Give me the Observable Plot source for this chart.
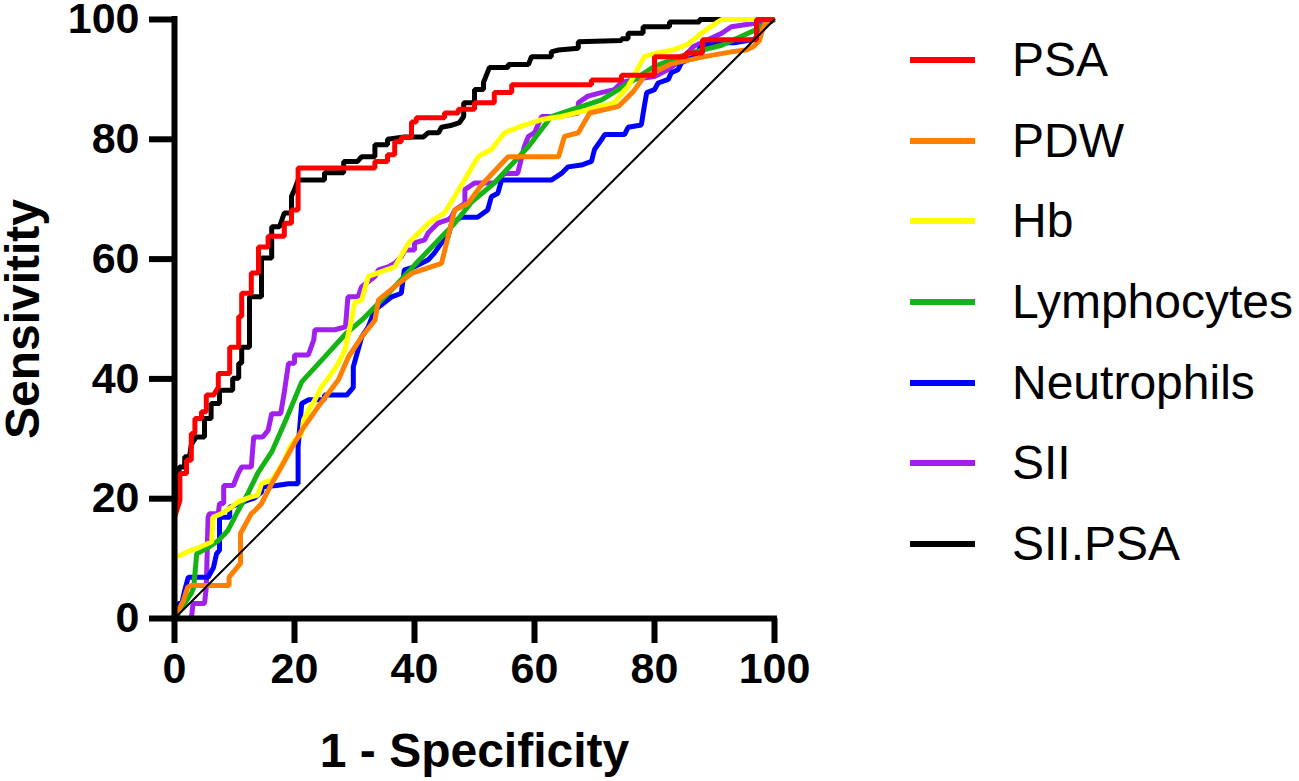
<!DOCTYPE html>
<html>
<head>
<meta charset="utf-8">
<script src="https://cdn.jsdelivr.net/npm/d3@7"></script>
<script src="https://cdn.jsdelivr.net/npm/@observablehq/plot@0.6"></script>
<style>
  html, body { margin: 0; padding: 0; background: #fff; }
  body { font-family: "Liberation Sans", Arial, sans-serif; }
  #wrap { position: relative; width: 1299px; height: 781px; overflow: hidden; background: #fff; }
  #chart { position: absolute; left: 0; top: 0; }
  #legend { position: absolute; left: 910px; top: 19.7px; }
  .row { height: 80.7px; display: flex; align-items: center; }
  .sw { width: 65px; height: 6px; margin-right: 37px; flex: none; }
  .lab { font-size: 48px; line-height: 1; color: #000; white-space: nowrap; }
</style>
</head>
<body>
<div id="wrap"><div id="chart"></div><div id="legend"></div></div>
<script>
// ---- Data (x = 1 - Specificity %, y = Sensitivity %) ----
const seriesNames = ["PSA", "PDW", "Hb", "Lymphocytes", "Neutrophils", "SII", "SII.PSA"];
const seriesColors = ["#ff0000", "#ff8000", "#ffff00", "#14b414", "#0000ff", "#a020f0", "#000000"];
const xTicks = [0, 20, 40, 60, 80, 100];
const yTicks = [0, 20, 40, 60, 80, 100];
const xLabel = "1 - Specificity";
const yLabel = "Sensivitity";
const chanceLine = [[0, 0], [100, 100]];

const psa = [[0,0],[0,16.9],[0.9,19.7],[0.9,24.2],[2,24.2],[2,26.4],[2.8,26.4],[2.8,30.9],[3.4,30.9],[3.4,33.4],[4.5,33.4],[4.5,34.5],[5.3,34.5],[5.3,37.3],[6.5,37.3],[7.3,38.6],[7.3,40.9],[9.2,40.9],[9.2,45.3],[10.7,45.3],[10.7,50.4],[11.2,50.4],[11.2,54.3],[12.8,54.3],[12.8,57.7],[14,57.7],[14,62],[15.6,62],[15.6,63.8],[18.3,63.8],[18.3,66],[19.5,66],[19.5,68.2],[20.6,68.2],[20.6,75.2],[33.4,75.2],[33.4,76.3],[35.5,76.3],[35.5,77.4],[36.7,77.4],[36.7,79.6],[37.8,79.6],[37.8,80.3],[39.5,80.3],[39.5,82.9],[40.3,82.9],[40.3,83.6],[45,83.6],[45,84.4],[47.3,84.4],[47.3,85],[50,85],[50,86.1],[53.3,86.1],[53.3,87.8],[56.2,87.8],[56.2,89.1],[69.5,89.1],[69.5,89.9],[74.5,89.9],[74.5,90.7],[80,90.7],[80,93.8],[85.3,93.8],[85.3,94.4],[88,94.4],[88,96.6],[97,96.6],[97,100],[100,100]];

const pdw = [[0,0],[1.5,3],[2.2,5.2],[2.8,5.5],[9.1,5.5],[9.1,6.9],[11,9.2],[11,14.2],[12.8,17.5],[13.4,18],[14.5,19.2],[16.2,22.5],[17.8,25.3],[19.5,28.4],[21.2,31.4],[23.9,35.3],[27.3,39.8],[29,43.7],[31.2,47],[33.4,49.8],[34,53.2],[36.7,55.4],[39.5,57.6],[44.5,59.3],[46.7,68.2],[48.9,69.3],[51.2,72.4],[55.6,77.1],[64,77.1],[65,80.5],[67.3,81.1],[69.2,84.4],[74,85.5],[76.5,88],[78.3,90.5],[80,91.2],[82.8,92.6],[88.3,93.8],[92.8,94.6],[95.3,94.9],[96.5,95.5],[97.5,96.5],[98,98.3],[98.5,99.5],[100,100]];

const hb = [[0,0],[0,10.5],[0.9,10.5],[2.5,11.3],[4,11.8],[6.2,12.8],[6.4,16.9],[7.8,17.5],[9.5,18.6],[10.6,19.5],[12.8,20.3],[13.9,20.6],[14.5,22.5],[16.2,23.1],[17.3,24.7],[18.3,26.4],[19.2,28.6],[20,29.7],[21.2,30.9],[21.5,33.1],[22.3,34.7],[23.4,36.5],[24.5,38.7],[25.6,40.1],[27.3,42.6],[28.4,44.8],[29,47.6],[29.5,49.8],[30,52.7],[31.2,53.2],[32.3,57.1],[36.7,58.7],[39,62.7],[42.3,66],[45,67.7],[46.7,70.5],[48.5,73.5],[50.6,77.1],[52.8,78.3],[55,81.1],[57.8,82.2],[61.2,83.3],[64.5,83.8],[68.9,84.9],[73.3,86.1],[74.5,87.6],[75.6,88.8],[78.3,93.8],[80,94.3],[83.3,95],[85.6,95.9],[87.8,97.7],[89.5,98.9],[91.2,100],[100,100]];

const lymphocytes = [[0,0],[1,1.5],[2.8,4.2],[3.2,5.2],[3.7,10.8],[5.5,11.8],[7.3,13],[8.9,14.7],[10.6,18],[12.3,21],[13.9,24.3],[16.2,27.8],[18.5,33],[21.2,39.5],[23.5,42],[25.6,44.3],[28.5,47.5],[31.2,49.8],[36.7,55.4],[40,59],[44,63.2],[46.7,66],[49.5,69.5],[53.3,72.7],[59,78.8],[62.8,83.8],[67,85.2],[71.2,86.6],[76.7,90],[80,92.2],[85.6,94.3],[91.2,95.7],[96.7,98.2],[100,100]];

const neutrophils = [[0,0],[0.5,0.5],[0.6,2.5],[1.2,2.5],[1.7,4.7],[2.3,6.9],[5.6,6.9],[6.5,8.5],[7,10.8],[7.5,11.4],[7.5,16.9],[9.2,16.9],[9.2,18.6],[11,19.2],[12,19.7],[13.3,20.1],[14.5,21.1],[14.7,22],[17,22.2],[19,22.5],[20.6,22.5],[20.6,28.6],[21.2,35.9],[22.3,36.5],[25,36.5],[25,37.3],[28.7,37.3],[29.8,38.6],[29.8,42],[31.2,47],[32.3,48.7],[33.4,51.5],[36.2,53.7],[37.8,54.3],[38.3,58.2],[40,58.7],[42.3,59.9],[43.3,61],[44.5,62.7],[45.6,63.8],[46.2,66],[47.8,67],[50.5,67],[52.2,68.2],[52.8,70.4],[53.9,71],[54.5,73.2],[62.8,73.2],[64.5,74.3],[65.6,75.4],[67.8,75.7],[69.5,76.3],[70,78.3],[71.2,80],[71.7,80.8],[75,80.8],[75.6,82],[77.8,82.4],[78.3,85.5],[78.7,87.8],[80,88.3],[80.6,89.4],[82.3,90],[82.8,91.1],[83.9,91.6],[84.5,92.8],[86.7,93.8],[87.8,95.5],[90,96.1],[93.3,96.1],[96.7,96.7],[97.8,98.3],[98.9,99.4],[100,100]];

const sii = [[0,0],[2.8,0],[3.1,2.5],[5,2.5],[5.3,5.2],[5.6,16.9],[5.8,17.5],[7.3,17.5],[7.5,19.2],[8.2,19.2],[8.2,22.2],[9.8,22.2],[10.6,24.2],[11.2,25.3],[12.8,25.3],[13.2,30.3],[14.7,30.3],[15.6,31.4],[16.2,34.2],[17.7,34.2],[18.3,37.8],[19,42.6],[20,42.6],[20,44],[22.3,44],[22.6,44.8],[23.2,46.5],[23.4,48.2],[26.7,48.2],[28.5,48.7],[28.9,53.7],[30.6,53.7],[31.2,55.4],[33.4,57.1],[34,58.2],[35.6,58.7],[36.7,59.3],[37.8,60.4],[38.4,61.5],[40,61.5],[40,62.7],[41.7,63.2],[42.3,64.4],[43.3,65.4],[43.9,66],[45.6,66.6],[46.2,67.1],[46.7,68.2],[48.4,69.3],[48.4,71.6],[50,72.7],[53.3,72.7],[55,74.3],[57.2,74.3],[58.3,78.8],[59,80.5],[60,81.1],[61.2,83.8],[64,83.8],[67.3,84.4],[67.3,86.1],[68.9,87.2],[71.1,87.8],[73.3,88.3],[74.5,89.5],[76.7,90],[80,90.5],[82.2,91.6],[84.5,93.3],[86.5,95.5],[91.2,97.7],[92.8,98.8],[96.2,99.3],[100,100]];

const siiPsa = [[0,0],[0,17],[0.5,22],[0.8,25.3],[1.7,25.3],[1.7,27],[2.5,27],[2.8,29],[3.6,30.3],[5,30.3],[5,33.4],[6.1,33.4],[6.1,35.9],[7.5,35.9],[7.5,38.1],[9.7,38.1],[9.7,40.1],[10.7,40.1],[10.7,42.6],[11.2,42.6],[11.2,45.3],[12.5,45.3],[12.5,53.7],[14.5,53.7],[14.5,60.2],[16.2,60.2],[16.2,65.4],[17.5,65.4],[18.3,67.7],[19.5,67.7],[19.5,70.5],[20,71.6],[20.6,73.2],[25,73.2],[25,74.4],[28.2,74.4],[28.2,76.3],[30.5,76.3],[31.2,77.1],[33.4,77.1],[33.4,79.1],[35.5,79.1],[35.5,80],[38.3,80.4],[41.5,80.4],[42.3,81.1],[44,81.1],[44.5,82],[46,82.3],[47.5,82.8],[48.2,83.8],[48.2,86.1],[50,86.1],[50,88.3],[51.5,88.3],[51.5,89.5],[52.5,92],[55.6,92],[55.6,92.5],[59,92.5],[59.5,93.8],[62.8,93.8],[62.8,94.6],[64,94.9],[67.3,95.2],[67.3,96.3],[74.5,96.5],[74.5,96.8],[75.6,96.8],[75.6,97.7],[78.1,97.7],[78.1,98.8],[82.5,98.8],[82.5,99.6],[87.5,99.6],[87.5,100],[100,100]];

const seriesPoints = [psa, pdw, hb, lymphocytes, neutrophils, sii, siiPsa];

// ---- Build table ----
const rows = seriesNames.flatMap((name, i) => seriesPoints[i].map(([x, y]) => ({name, x, y})));
const drawOrder = [...seriesNames].reverse(); // first legend entry drawn on top
const chanceRows = chanceLine.map(([x, y]) => ({x, y}));

const FONT = '"Liberation Sans", Arial, Helvetica, sans-serif';

const chart = Plot.plot({
  width: 820,
  height: 781,
  marginLeft: 174,
  marginRight: 46,
  marginTop: 19,
  marginBottom: 163,
  style: {fontFamily: FONT, background: "transparent", overflow: "visible", color: "#000"},
  x: {domain: [0, 100]},
  y: {domain: [0, 100]},
  color: {domain: seriesNames, range: seriesColors},
  marks: [
    ...drawOrder.map(name =>
      Plot.line(rows.filter(d => d.name === name), {
        x: "x", y: "y", stroke: "name", strokeWidth: 5,
        strokeLinejoin: "miter", strokeLinecap: "butt"
      })
    ),
    Plot.line(chanceRows, {x: "x", y: "y", stroke: "#000", strokeWidth: 2}),
    Plot.axisX({
      ticks: xTicks, tickFormat: d => String(d), tickSize: 25, tickPadding: 9,
      strokeWidth: 6, fontSize: 43, fontWeight: "bold", label: null
    }),
    Plot.axisY({
      ticks: yTicks, tickFormat: d => String(d), tickSize: 25, tickPadding: 10,
      strokeWidth: 6, fontSize: 43, fontWeight: "bold", label: null
    }),
    Plot.ruleX([0], {stroke: "#000", strokeWidth: 6, strokeLinecap: "square"}),
    Plot.ruleY([0], {stroke: "#000", strokeWidth: 6, strokeLinecap: "square"}),
    Plot.text([xLabel], {
      text: d => d, frameAnchor: "bottom", lineAnchor: "top", textAnchor: "middle", dy: 114,
      fontSize: 48, fontWeight: "bold", fill: "#000"
    }),
    Plot.text([yLabel], {
      text: d => d, frameAnchor: "left", lineAnchor: "top", textAnchor: "middle", rotate: -90, dx: -170,
      fontSize: 48, fontWeight: "bold", fill: "#000"
    })
  ]
});
document.getElementById("chart").appendChild(chart);

// ---- Legend ----
const legend = document.getElementById("legend");
seriesNames.forEach((name, i) => {
  const row = document.createElement("div");
  row.className = "row";
  const sw = document.createElement("div");
  sw.className = "sw";
  sw.style.background = seriesColors[i];
  const lab = document.createElement("div");
  lab.className = "lab";
  lab.textContent = name;
  row.appendChild(sw);
  row.appendChild(lab);
  legend.appendChild(row);
});
</script>
</body>
</html>
